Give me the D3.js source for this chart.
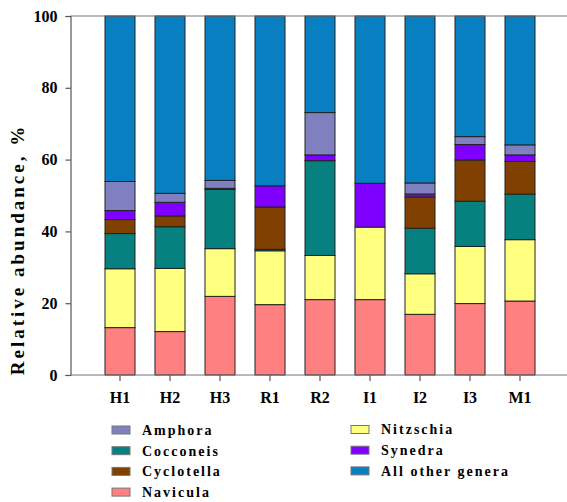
<!DOCTYPE html>
<html>
<head>
<meta charset="utf-8">
<script src="https://cdn.jsdelivr.net/npm/d3@7"></script>
<style>
  body { margin: 0; background: #fff; }
  svg text { font-family: "Liberation Serif", "Times New Roman", serif; font-weight: bold; }
</style>
</head>
<body>
<div id="chart"></div>
<script>
// samples along the x axis
const sites = ["H1", "H2", "H3", "R1", "R2", "I1", "I2", "I3", "M1"];

// genera, bottom of stack first
const genera = ["Navicula", "Nitzschia", "Cocconeis", "Cyclotella", "Synedra", "Amphora", "All other genera"];

// relative abundance (%) per site
const navicula   = [13.2, 12.1, 21.9, 19.6, 21.0, 21.0, 16.9, 19.9, 20.6];
const nitzschia  = [16.4, 17.6, 13.3, 15.0, 12.3, 20.2, 11.3, 15.9, 17.1];
const cocconeis  = [ 9.8, 11.6, 16.5,  0.4, 26.4,  0.0, 12.7, 12.6, 12.7];
const cyclotella = [ 3.9,  3.0,  0.0, 11.8,  0.0,  0.0,  8.7, 11.5,  9.1];
const synedra    = [ 2.5,  3.8,  0.3,  5.9,  1.6, 12.2,  0.8,  4.3,  1.8];
const amphora    = [ 8.1,  2.5,  2.2,  0.0, 11.8,  0.0,  3.1,  2.2,  2.8];
const others     = [46.1, 49.4, 45.8, 47.3, 26.9, 46.6, 46.5, 33.6, 35.9];

const yTicks = [0, 20, 40, 60, 80, 100];

// legend order as in the figure (two columns)
const legendCol1 = ["Amphora", "Cocconeis", "Cyclotella", "Navicula"];
const legendCol2 = ["Nitzschia", "Synedra", "All other genera"];

const colors = {
  "Navicula": "#ff8080",
  "Nitzschia": "#ffff80",
  "Cocconeis": "#078080",
  "Cyclotella": "#804000",
  "Synedra": "#8000ff",
  "Amphora": "#8080c0",
  "All other genera": "#087fc1"
};

const seriesValues = {
  "Navicula": navicula, "Nitzschia": nitzschia, "Cocconeis": cocconeis,
  "Cyclotella": cyclotella, "Synedra": synedra, "Amphora": amphora,
  "All other genera": others
};

const rows = sites.map((s, i) => {
  const r = { site: s };
  genera.forEach(g => r[g] = seriesValues[g][i]);
  return r;
});

const width = 567, height = 502;
const plotLeft = 70.5, plotTop = 16, plotBottom = 375, plotRight = 567;

const svg = d3.select("#chart").append("svg")
  .attr("width", width)
  .attr("height", height);

const x = d3.scaleBand()
  .domain(sites)
  .range([95, 545])
  .paddingInner(0.4)
  .paddingOuter(0.2);

const y = d3.scaleLinear()
  .domain([0, 100])
  .range([plotBottom, plotTop]);

const stacked = d3.stack().keys(genera)(rows);

// bars
svg.append("g")
  .selectAll("g")
  .data(stacked)
  .join("g")
  .attr("fill", d => colors[d.key])
  .selectAll("rect")
  .data(d => d)
  .join("rect")
  .attr("x", d => x(d.data.site))
  .attr("width", x.bandwidth())
  .attr("y", d => y(d[1]))
  .attr("height", d => y(d[0]) - y(d[1]))
  .attr("stroke", "#222")
  .attr("stroke-width", 1);

// frame line on top (runs off the right edge)
svg.append("line")
  .attr("x1", plotLeft).attr("x2", plotRight)
  .attr("y1", plotTop).attr("y2", plotTop)
  .attr("stroke", "#777").attr("stroke-width", 1.2);

// y axis
const yAxis = svg.append("g")
  .attr("transform", `translate(${plotLeft},0)`)
  .call(d3.axisLeft(y).tickValues(yTicks).tickSize(5).tickPadding(8));
yAxis.select(".domain").attr("stroke", "#555").attr("stroke-width", 1.2);
yAxis.selectAll(".tick line").attr("stroke", "#555").attr("stroke-width", 1.2);
yAxis.selectAll(".tick text")
  .attr("fill", "#000")
  .style("font-size", "16px")
  .style("font-family", "Liberation Serif, serif")
  .style("font-weight", "bold");

// x axis
const xAxis = svg.append("g")
  .attr("transform", `translate(0,${plotBottom})`)
  .call(d3.axisBottom(x).tickSize(6).tickPadding(11));
xAxis.select(".domain").remove();
xAxis.selectAll(".tick line").attr("stroke", "#555").attr("stroke-width", 1.2);
xAxis.selectAll(".tick text")
  .attr("fill", "#000")
  .style("font-size", "16px")
  .style("font-family", "Liberation Serif, serif")
  .style("font-weight", "bold");

svg.append("line")
  .attr("x1", plotLeft).attr("x2", plotRight)
  .attr("y1", plotBottom).attr("y2", plotBottom)
  .attr("stroke", "#777").attr("stroke-width", 1.2);

// y label
svg.append("text")
  .attr("transform", `translate(24,${(plotTop + plotBottom) / 2 + 54}) rotate(-90)`)
  .attr("text-anchor", "middle")
  .style("font-size", "19px")
  .style("letter-spacing", "3px")
  .text("Relative abundance, %");

// legend
function drawLegend(items, x0, y0) {
  const g = svg.append("g").attr("transform", `translate(${x0},${y0})`);
  const item = g.selectAll("g")
    .data(items)
    .join("g")
    .attr("transform", (d, i) => `translate(0,${i * 20.7})`);
  item.append("rect")
    .attr("x", 0).attr("y", -4)
    .attr("width", 18).attr("height", 8)
    .attr("fill", d => colors[d])
    .attr("stroke", "#777")
    .attr("stroke-width", 1);
  item.append("text")
    .attr("x", 30)
    .attr("dy", "0.35em")
    .style("font-size", "14px")
    .style("letter-spacing", "2px")
    .text(d => d);
}
drawLegend(legendCol1, 112, 430);
drawLegend(legendCol2, 351, 429.5);
</script>
</body>
</html>
